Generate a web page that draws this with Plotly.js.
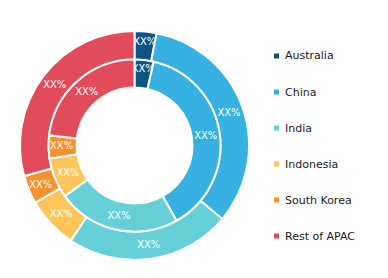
<!DOCTYPE html>
<html><head><meta charset="utf-8">
<script src="https://cdn.plot.ly/plotly-3.0.1.min.js"></script>
<style>html,body{margin:0;padding:0;background:#fff;}#chart{width:388px;height:278px;}</style>
</head><body><div id="chart"></div>
<script>
const categories = ["Australia", "China", "India", "Indonesia", "South Korea", "Rest of APAC"];
const colors = ["#0c5484", "#36b1e2", "#65d0d8", "#fec65a", "#f7912d", "#e24b5a"];
const outerValues = [3.1, 33.0, 23.3, 7.3, 4.0, 29.3];
const innerValues = [3.6, 38.3, 23.1, 7.6, 4.3, 23.1];
const sliceLabels = ["XX%", "XX%", "XX%", "XX%", "XX%", "XX%"];

const common = {
  type: 'pie', labels: categories, sort: false, direction: 'clockwise', rotation: 0,
  text: sliceLabels, textinfo: 'text', textposition: 'inside', insidetextorientation: 'horizontal',
  textfont: {family: 'DejaVu Sans Condensed, DejaVu Sans', size: 11, color: '#ffffff'},
  marker: {colors: colors, line: {color: '#ffffff', width: 2}},
  showlegend: false, hoverinfo: 'none'
};
const W = 388, H = 278, cx = 134.5, cy = 145.5;
function dom(r){ return {x: [(cx - r)/W, (cx + r)/W], y: [(H - cy - r)/H, (H - cy + r)/H]}; }
const outer = Object.assign({}, common, {values: outerValues, hole: 86/114.5, domain: dom(114.5)});
const inner = Object.assign({}, common, {values: innerValues, hole: 58/86, domain: dom(86)});

const annotations = [], shapes = [];
categories.forEach((c, i) => {
  const y = 56 + i * 36;
  shapes.push({type: 'rect', xref: 'paper', yref: 'paper', x0: 274/W, x1: 279/W, y0: (H - y - 2.5)/H, y1: (H - y + 2.5)/H, fillcolor: colors[i], line: {width: 0}});
  annotations.push({xref: 'paper', yref: 'paper', x: 283/W, y: (H - y)/H, xanchor: 'left', yanchor: 'middle', text: c, showarrow: false, font: {family: 'DejaVu Sans', size: 11, color: '#1a1a1a'}});
});

Plotly.newPlot('chart', [outer, inner], {
  width: W, height: H, margin: {l: 0, r: 0, t: 0, b: 0},
  uniformtext: {minsize: 11, mode: 'show'},
  paper_bgcolor: '#ffffff', showlegend: false, annotations: annotations, shapes: shapes
}, {staticPlot: true});
</script></body></html>
